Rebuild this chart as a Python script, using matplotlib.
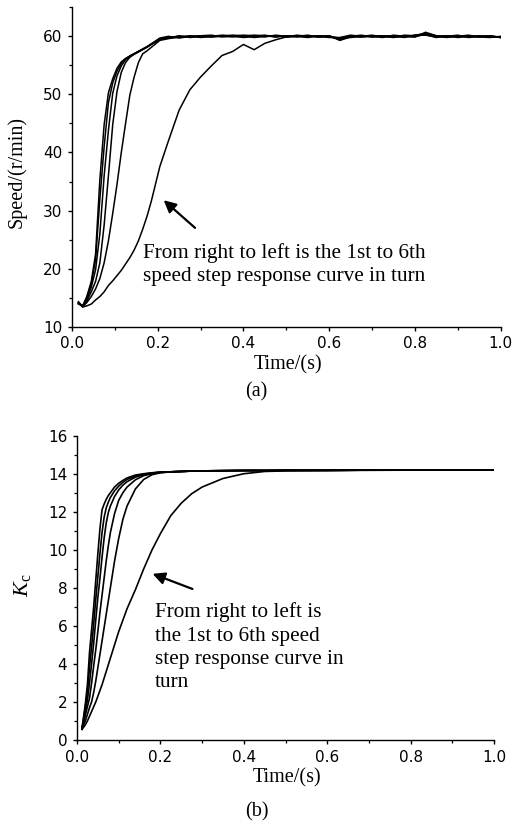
import matplotlib
matplotlib.use('Agg')
import matplotlib.pyplot as plt
from matplotlib.ticker import MultipleLocator

# (a) speed step responses, curve 1 = slowest ... curve 6 = fastest
t_a = [0.015, 0.025, 0.035, 0.045, 0.055, 0.065, 0.075, 0.085, 0.095, 0.105,
       0.115, 0.125, 0.135, 0.145, 0.155, 0.165, 0.175, 0.185, 0.195, 0.205,
       0.225, 0.25, 0.275, 0.30, 0.325, 0.35, 0.375, 0.40, 0.425, 0.45,
       0.475, 0.50, 0.525, 0.55, 0.575, 0.60, 0.625, 0.65, 0.675, 0.70,
       0.725, 0.75, 0.775, 0.80, 0.825, 0.85, 0.875, 0.90, 0.925, 0.95,
       0.975, 1.0]
speed_1 = [14.3, 13.4, 13.6, 13.9, 14.6, 15.2, 16.0, 17.1, 17.9, 18.8,
           19.7, 20.8, 21.9, 23.2, 24.8, 26.8, 29.0, 31.6, 34.6, 37.6,
           42.0, 47.3, 50.8, 53.0, 54.9, 56.7, 57.4, 58.6, 57.7, 58.8,
           59.4, 59.9, 60.0, 60.1, 59.9, 60.1, 59.4, 60.0, 59.9, 60.1,
           60.1, 59.9, 60.0, 59.9, 60.5, 60.1, 59.9, 60.0, 60.1, 59.9,
           60.0, 59.8]
speed_2 = [14.0, 13.4, 14.2, 15.2, 16.5, 18.3, 21.0, 24.8, 29.5, 34.5,
           40.0, 45.0, 49.9, 53.0, 55.5, 57.0, 57.5, 58.1, 58.7, 59.3,
           59.6, 59.9, 60.0, 59.9, 60.1, 60.0, 60.1, 59.8, 60.0, 60.0,
           60.1, 59.9, 60.1, 59.9, 60.1, 60.0, 59.7, 59.8, 60.0, 60.2,
           59.9, 60.0, 59.9, 60.2, 60.2, 59.9, 60.0, 60.2, 59.8, 60.0,
           60.0, 59.9]
speed_3 = [13.9, 13.7, 14.5, 16.0, 17.8, 21.0, 27.5, 36.0, 44.8, 50.5,
           53.8, 55.5, 56.4, 56.9, 57.3, 57.7, 58.1, 58.6, 59.1, 59.6,
           59.7, 60.1, 59.8, 60.0, 59.9, 60.1, 59.9, 60.0, 60.2, 60.1,
           59.9, 60.1, 60.0, 60.2, 59.9, 60.0, 59.5, 60.1, 59.9, 60.1,
           60.0, 59.8, 60.2, 60.1, 60.4, 60.0, 60.1, 59.8, 60.0, 59.9,
           60.1, 59.8]
speed_4 = [14.2, 13.5, 14.8, 16.8, 19.8, 26.0, 36.0, 43.8, 50.2, 53.2,
           54.9, 56.0, 56.6, 57.0, 57.4, 57.8, 58.2, 58.7, 59.2, 59.7,
           60.0, 59.7, 60.0, 60.1, 60.2, 59.9, 60.0, 60.2, 60.1, 59.9,
           60.2, 60.0, 59.9, 60.1, 60.0, 59.8, 59.8, 60.2, 60.0, 59.9,
           60.1, 59.9, 60.1, 60.0, 60.3, 59.8, 60.1, 59.9, 60.0, 60.1,
           59.9, 59.9]
speed_5 = [14.0, 13.6, 15.1, 17.4, 21.5, 32.0, 41.0, 48.6, 52.0, 54.0,
           55.3, 56.1, 56.6, 57.0, 57.4, 57.8, 58.2, 58.7, 59.1, 59.6,
           59.8, 60.0, 59.9, 60.1, 59.9, 60.0, 60.2, 60.1, 59.8, 60.0,
           60.1, 59.9, 60.2, 60.0, 59.9, 60.1, 59.3, 59.9, 60.1, 60.0,
           59.8, 60.2, 60.0, 59.9, 60.7, 60.1, 59.9, 60.0, 60.2, 59.9,
           59.8, 60.0]
speed_6 = [14.1, 13.5, 15.3, 17.8, 22.5, 35.3, 44.8, 50.3, 52.7, 54.5,
           55.6, 56.2, 56.6, 57.0, 57.4, 57.8, 58.2, 58.6, 59.0, 59.5,
           59.7, 59.9, 60.1, 59.8, 60.0, 60.2, 60.1, 59.9, 60.0, 60.2,
           59.9, 60.1, 60.0, 59.8, 60.1, 59.9, 59.6, 60.0, 60.2, 59.9,
           60.0, 60.1, 59.8, 60.2, 60.5, 60.0, 59.8, 60.1, 59.9, 60.0,
           60.1, 59.8]

# (b) Kc step responses
t_b = [0.012, 0.02, 0.025, 0.03, 0.035, 0.04, 0.045, 0.05, 0.055, 0.06,
       0.065, 0.07, 0.075, 0.08, 0.09, 0.10, 0.11, 0.12, 0.14, 0.16,
       0.18, 0.20, 0.225, 0.25, 0.275, 0.30, 0.35, 0.40, 0.45, 0.50,
       0.60, 0.70, 0.80, 0.90, 1.0]
kc_tail = [14.1, 14.12, 14.14, 14.15, 14.16, 14.17, 14.17, 14.18, 14.18,
           14.19, 14.19, 14.2, 14.2]
kc_1 = [0.55, 0.8, 1.0, 1.25, 1.5, 1.75, 2.0, 2.3, 2.6, 2.9,
        3.25, 3.6, 3.95, 4.3, 5.0, 5.7, 6.3, 6.9, 7.9, 9.0,
        10.0, 10.85, 11.8, 12.45, 12.95, 13.3, 13.75, 14.0, 14.12, 14.15,
        14.17, 14.18, 14.19, 14.19, 14.2]
kc_2 = [0.6, 1.0, 1.35, 1.7, 2.0, 2.5, 3.1, 3.8, 4.5, 5.2,
        5.9, 6.6, 7.3, 8.0, 9.4, 10.6, 11.6, 12.3, 13.2, 13.7,
        13.95, 14.05] + kc_tail
kc_3 = [0.6, 1.3, 1.75, 2.2, 3.0, 3.9, 4.75, 5.7, 6.7, 7.6,
        8.5, 9.4, 10.2, 10.9, 11.9, 12.6, 13.0, 13.3, 13.68, 13.9,
        14.0, 14.06] + kc_tail
kc_4 = [0.6, 1.5, 2.1, 3.0, 4.0, 5.1, 6.3, 7.5, 8.5, 9.6,
        10.6, 11.4, 11.95, 12.3, 12.8, 13.15, 13.4, 13.58, 13.82, 13.95,
        14.03, 14.08] + kc_tail
kc_5 = [0.6, 1.7, 2.6, 3.8, 4.9, 6.1, 7.4, 8.6, 9.8, 10.9,
        11.7, 12.2, 12.5, 12.75, 13.1, 13.35, 13.55, 13.7, 13.88, 13.98,
        14.04, 14.08] + kc_tail
kc_6 = [0.6, 1.9, 2.9, 4.6, 5.8, 7.0, 8.4, 9.8, 11.1, 12.1,
        12.4, 12.65, 12.85, 13.0, 13.3, 13.5, 13.65, 13.78, 13.93, 14.0,
        14.05, 14.09] + kc_tail

note_a = 'From right to left is the 1st to 6th\nspeed step response curve in turn'
note_b = 'From right to left is\nthe 1st to 6th speed\nstep response curve in\nturn'

plt.rcParams['font.family'] = 'DejaVu Sans'
plt.rcParams['mathtext.fontset'] = 'custom'
plt.rcParams['mathtext.rm'] = 'Liberation Serif'
plt.rcParams['mathtext.it'] = 'Liberation Serif:italic'
serif = 'Liberation Serif'


def style_axes(ax):
    for side in ['top', 'right']:
        ax.spines[side].set_visible(False)
    for side in ['left', 'bottom']:
        ax.spines[side].set_linewidth(1.0)
    ax.tick_params(which='major', direction='out', length=3, width=1.0,
                   labelsize=11, pad=4)
    ax.tick_params(which='minor', direction='out', length=2, width=0.9)
    ax.xaxis.set_major_locator(MultipleLocator(0.2))
    ax.xaxis.set_minor_locator(MultipleLocator(0.1))
    ax.xaxis.set_major_formatter(plt.FormatStrFormatter('%.1f'))


fig = plt.figure(figsize=(5.14, 8.27), dpi=100)

ax1 = fig.add_axes([72 / 514, 1 - 326.7 / 827, 428.6 / 514, 319.4 / 827])
for s in [speed_1, speed_2, speed_3, speed_4, speed_5, speed_6]:
    ax1.plot(t_a, s, color='black', lw=1.1)
ax1.set_xlim(0, 1.0)
ax1.set_ylim(10, 65)
style_axes(ax1)
ax1.yaxis.set_major_locator(MultipleLocator(10))
ax1.yaxis.set_minor_locator(MultipleLocator(5))
ax1.set_ylabel('Speed/(r/min)', family=serif, fontsize=14.5)
ax1.yaxis.set_label_coords(-0.106, 0.483)
ax1.set_xlabel('Time/(s)', family=serif, fontsize=14.5)
ax1.xaxis.set_label_coords(0.505, -0.088)
ax1.annotate('', xy=(0.209, 32.1), xytext=(0.292, 26.7),
             arrowprops=dict(arrowstyle='-|>', color='black', lw=1.6,
                             mutation_scale=18))
ax1.text(0.166, 24.4, note_a, family=serif, fontsize=15.3, va='top',
         ha='left', linespacing=1.27)

ax2 = fig.add_axes([77 / 514, 1 - 740 / 827, 417 / 514, 304.3 / 827])
for k in [kc_1, kc_2, kc_3, kc_4, kc_5, kc_6]:
    ax2.plot(t_b, k, color='black', lw=1.2)
ax2.set_xlim(0, 1.0)
ax2.set_ylim(0, 16)
style_axes(ax2)
ax2.yaxis.set_major_locator(MultipleLocator(2))
ax2.yaxis.set_minor_locator(MultipleLocator(1))
ax2.set_ylabel(r'$K_{\mathrm{c}}$', fontsize=16)
ax2.yaxis.set_label_coords(-0.106, 0.509)
ax2.set_xlabel('Time/(s)', family=serif, fontsize=14.5)
ax2.xaxis.set_label_coords(0.504, -0.092)
ax2.annotate('', xy=(0.175, 8.79), xytext=(0.283, 7.89),
             arrowprops=dict(arrowstyle='-|>', color='black', lw=1.6,
                             mutation_scale=18))
ax2.text(0.187, 7.25, note_b, family=serif, fontsize=15.3, va='top',
         ha='left', linespacing=1.32)

fig.text(256 / 514, 1 - 392 / 827, '(a)', family=serif, fontsize=14.5,
         ha='center', va='center')
fig.text(257 / 514, 1 - 812 / 827, '(b)', family=serif, fontsize=14.5,
         ha='center', va='center')

fig.savefig('out.png', dpi=100)
